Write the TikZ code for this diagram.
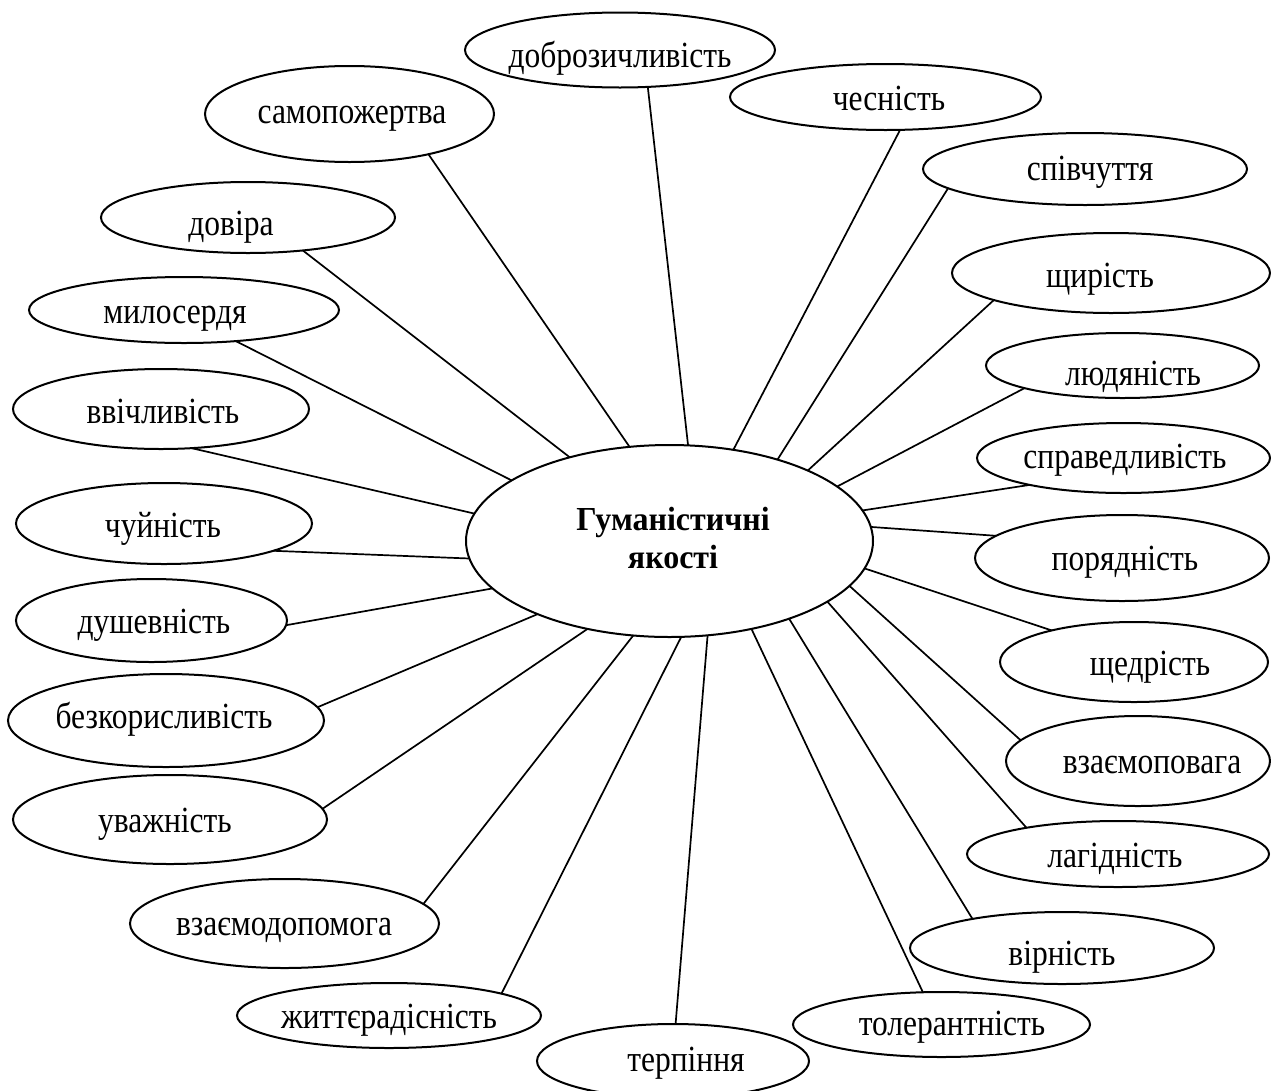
\documentclass[tikz,border=0pt]{standalone}
\usepackage{graphicx}
\usepackage{fontspec}
\setmainfont{Liberation Serif}
\usetikzlibrary{shapes.geometric}
\newcommand\vstretch[1]{\scalebox{1}[1.17]{#1}}
\begin{document}
\begin{tikzpicture}[x=1pt,y=-1pt,
  bub/.style={draw, ellipse, inner sep=0pt, outer sep=0pt, line width=2pt},
  lbl/.style={anchor=base, inner sep=0pt, font=\fontsize{31.5}{36}\selectfont},
  hlbl/.style={anchor=base, inner sep=0pt, font=\bfseries\fontsize{32}{37}\selectfont},
  link/.style={line width=1.7pt}]
\clip (0,0) rectangle (1271,1090);
\fill[white] (0,0) rectangle (1271,1090);

% centre
\node[bub, minimum width=407pt, minimum height=192pt] (hum) at (669.5,541) {};
\node[hlbl] (humA) at (673,530) {\scalebox{1}[1.05]{Гуманістичні}};
\node[hlbl] (humB) at (673,568) {\scalebox{1}[1.05]{якості}};

% outer ellipses
\node[bub, minimum width=310pt, minimum height=75pt] (dobr) at (620,50) {};
\node[lbl] (dobrT) at (620,67) {\vstretch{доброзичливість}};
\node[bub, minimum width=289pt, minimum height=96pt] (samo) at (349.5,114) {};
\node[lbl] (samoT) at (352,123) {\vstretch{самопожертва}};
\node[bub, minimum width=311pt, minimum height=66pt] (ches) at (885.5,97) {};
\node[lbl] (chesT) at (889,110) {\vstretch{чесність}};
\node[bub, minimum width=324pt, minimum height=72pt] (spiv) at (1085,169) {};
\node[lbl] (spivT) at (1090,180) {\vstretch{співчуття}};
\node[bub, minimum width=294pt, minimum height=71pt] (dovi) at (248,217.5) {};
\node[lbl] (doviT) at (231,235) {\vstretch{довіра}};
\node[bub, minimum width=318pt, minimum height=80pt] (shchyr) at (1111,273) {};
\node[lbl] (shchyrT) at (1100,287) {\vstretch{щирість}};
\node[bub, minimum width=310pt, minimum height=66pt] (milo) at (184,310) {};
\node[lbl] (miloT) at (175,323) {\vstretch{милосердя}};
\node[bub, minimum width=273pt, minimum height=65pt] (lyud) at (1122.5,365.5) {};
\node[lbl] (lyudT) at (1133,385) {\vstretch{людяність}};
\node[bub, minimum width=296pt, minimum height=80pt] (vvich) at (161,409) {};
\node[lbl] (vvichT) at (163,423) {\vstretch{ввічливість}};
\node[bub, minimum width=293pt, minimum height=70pt] (sprav) at (1123.5,458) {};
\node[lbl] (spravT) at (1125,468) {\vstretch{справедливість}};
\node[bub, minimum width=296pt, minimum height=81pt] (chuy) at (164,523.5) {};
\node[lbl] (chuyT) at (163,537) {\vstretch{чуйність}};
\node[bub, minimum width=294pt, minimum height=86pt] (poryad) at (1122,558) {};
\node[lbl] (poryadT) at (1125,570) {\vstretch{порядність}};
\node[bub, minimum width=271pt, minimum height=83pt] (dush) at (151.5,620.5) {};
\node[lbl] (dushT) at (154,633) {\vstretch{душевність}};
\node[bub, minimum width=268pt, minimum height=80pt] (shched) at (1134,662) {};
\node[lbl] (shchedT) at (1150,675) {\vstretch{щедрість}};
\node[bub, minimum width=316pt, minimum height=93pt] (bezk) at (166,720.5) {};
\node[lbl] (bezkT) at (164,728) {\vstretch{безкорисливість}};
\node[bub, minimum width=264pt, minimum height=90pt] (vzpov) at (1138,761) {};
\node[lbl] (vzpovT) at (1152,773) {\vstretch{взаємоповага}};
\node[bub, minimum width=314pt, minimum height=89pt] (uvazh) at (170,819.5) {};
\node[lbl] (uvazhT) at (165,832) {\vstretch{уважність}};
\node[bub, minimum width=302pt, minimum height=66pt] (lahid) at (1118,854) {};
\node[lbl] (lahidT) at (1115,867) {\vstretch{лагідність}};
\node[bub, minimum width=309pt, minimum height=89pt] (vzdop) at (284.5,923.5) {};
\node[lbl] (vzdopT) at (284,935) {\vstretch{взаємодопомога}};
\node[bub, minimum width=304pt, minimum height=72pt] (virn) at (1062,948) {};
\node[lbl] (virnT) at (1062,965) {\vstretch{вірність}};
\node[bub, minimum width=304pt, minimum height=65pt] (zhytt) at (389,1015.5) {};
\node[lbl] (zhyttT) at (389,1028) {\vstretch{життєрадісність}};
\node[bub, minimum width=297pt, minimum height=65pt] (toler) at (941.5,1024.5) {};
\node[lbl] (tolerT) at (952,1035) {\vstretch{толерантність}};
\node[bub, minimum width=272pt, minimum height=74pt] (terp) at (673,1061) {};
\node[lbl] (terpT) at (686,1071) {\vstretch{терпіння}};

% connectors
\draw[link] (dobr.-53.6) -- (hum.79.7);
\draw[link] (samo.-27.3) -- (hum.113.1);
\draw[link] (ches.-66.9) -- (hum.55.4);
\draw[link] (spiv.188.5) -- (hum.37.9);
\draw[link] (dovi.-31.2) -- (hum.140.9);
\draw[link] (shchyr.193.6) -- (hum.27.1);
\draw[link] (milo.-31.5) -- (hum.159.1);
\draw[link] (lyud.193.3) -- (hum.18.5);
\draw[link] (vvich.-52.2) -- (hum.172.5);
\draw[link] (sprav.196.4) -- (hum.9.4);
\draw[link] (chuy.-14.9) -- (hum.185.1);
\draw[link] (poryad.170.9) -- (hum.4.0);
\draw[link] (dush.-2.3) -- (hum.195.8);
\draw[link] (shched.159) -- (hum.-8.2);
\draw[link] (bezk.5.1) -- (hum.209.7);
\draw[link] (vzpov.170.1) -- (hum.-14.4);
\draw[link] (uvazh.4.8) -- (hum.227.8);
\draw[link] (lahid.164.7) -- (hum.-21.6);
\draw[link] (vzdop.8.4) -- (hum.249.2);
\draw[link] (virn.162.9) -- (hum.-33.0);
\draw[link] (zhytt.11.6) -- (hum.-83.2);
\draw[link] (toler.120.8) -- (hum.-47.5);
\draw[link] (terp.86.8) -- (hum.-68.7);
\end{tikzpicture}
\end{document}
